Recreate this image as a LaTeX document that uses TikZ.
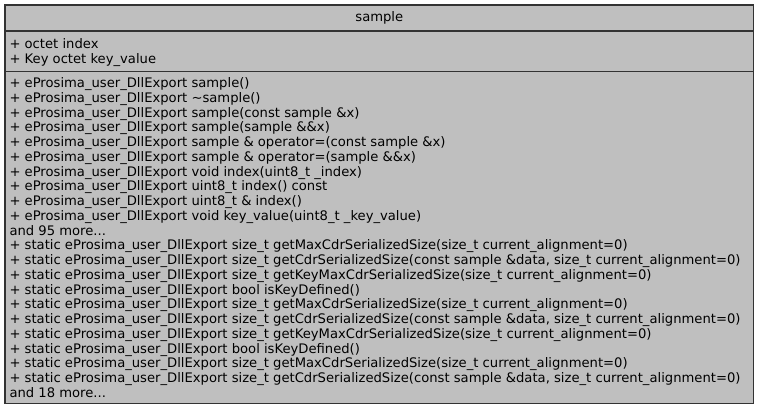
\documentclass[tikz,border=0pt]{standalone}
\usepackage{fontspec}
\setmainfont{DejaVu Sans}
\definecolor{boxfill}{HTML}{BFBFBF}
\definecolor{boxedge}{HTML}{333333}
\newcommand{\threedots}{...}
\begin{document}
\begin{tikzpicture}[x=1pt,y=-1pt,
  labelfont/.style={font=\fontsize{13.15}{14.75}\selectfont},
  member/.style={labelfont, anchor=base west, inner sep=0pt},
  edge/.style={draw=boxedge, line width=1.3pt}]
\useasboundingbox (0,0) rectangle (759,411);
% class box with its three compartments
\coordinate (nw) at (5,5);
\coordinate (se) at (753.5,403.5);
\fill[boxfill] (nw) rectangle (se);
\coordinate (s1w) at (5,31);
\coordinate (s1e) at (753.5,31);
\coordinate (s2w) at (5,71.5);
\coordinate (s2e) at (753.5,71.5);
\draw[edge] (s1w) -- (s1e);
\draw[edge] (s2w) -- (s2e);
\draw[edge] (nw) rectangle (se);
% class name
\node[labelfont, inner sep=0pt] (title) at (379.3,18.3) {sample};
% attributes
\foreach \txt [count=\i] in {
  {+ octet index},
  {+ Key octet key\_value}}
  \node[member] (a\i) at (9.3,{48.9+(\i-1)*14.75}) {\txt};
% operations
\foreach \txt [count=\i] in {
  {+ eProsima\_user\_DllExport sample()},
  {+ eProsima\_user\_DllExport \textasciitilde sample()},
  {+ eProsima\_user\_DllExport sample(const sample \&x)},
  {+ eProsima\_user\_DllExport sample(sample \&\&x)},
  {+ eProsima\_user\_DllExport sample \& operator=(const sample \&x)},
  {+ eProsima\_user\_DllExport sample \& operator=(sample \&\&x)},
  {+ eProsima\_user\_DllExport void index(uint8\_t \_index)},
  {+ eProsima\_user\_DllExport uint8\_t index() const},
  {+ eProsima\_user\_DllExport uint8\_t \& index()},
  {+ eProsima\_user\_DllExport void key\_value(uint8\_t \_key\_value)},
  {and 95 more\threedots},
  {+ static eProsima\_user\_DllExport size\_t getMaxCdrSerializedSize(size\_t current\_alignment=0)},
  {+ static eProsima\_user\_DllExport size\_t getCdrSerializedSize(const sample \&data, size\_t current\_alignment=0)},
  {+ static eProsima\_user\_DllExport size\_t getKeyMaxCdrSerializedSize(size\_t current\_alignment=0)},
  {+ static eProsima\_user\_DllExport bool isKeyDefined()},
  {+ static eProsima\_user\_DllExport size\_t getMaxCdrSerializedSize(size\_t current\_alignment=0)},
  {+ static eProsima\_user\_DllExport size\_t getCdrSerializedSize(const sample \&data, size\_t current\_alignment=0)},
  {+ static eProsima\_user\_DllExport size\_t getKeyMaxCdrSerializedSize(size\_t current\_alignment=0)},
  {+ static eProsima\_user\_DllExport bool isKeyDefined()},
  {+ static eProsima\_user\_DllExport size\_t getMaxCdrSerializedSize(size\_t current\_alignment=0)},
  {+ static eProsima\_user\_DllExport size\_t getCdrSerializedSize(const sample \&data, size\_t current\_alignment=0)},
  {and 18 more\threedots}}
  \node[member] (m\i) at (9.3,{87.7+(\i-1)*14.75}) {\txt};
\end{tikzpicture}
\end{document}
